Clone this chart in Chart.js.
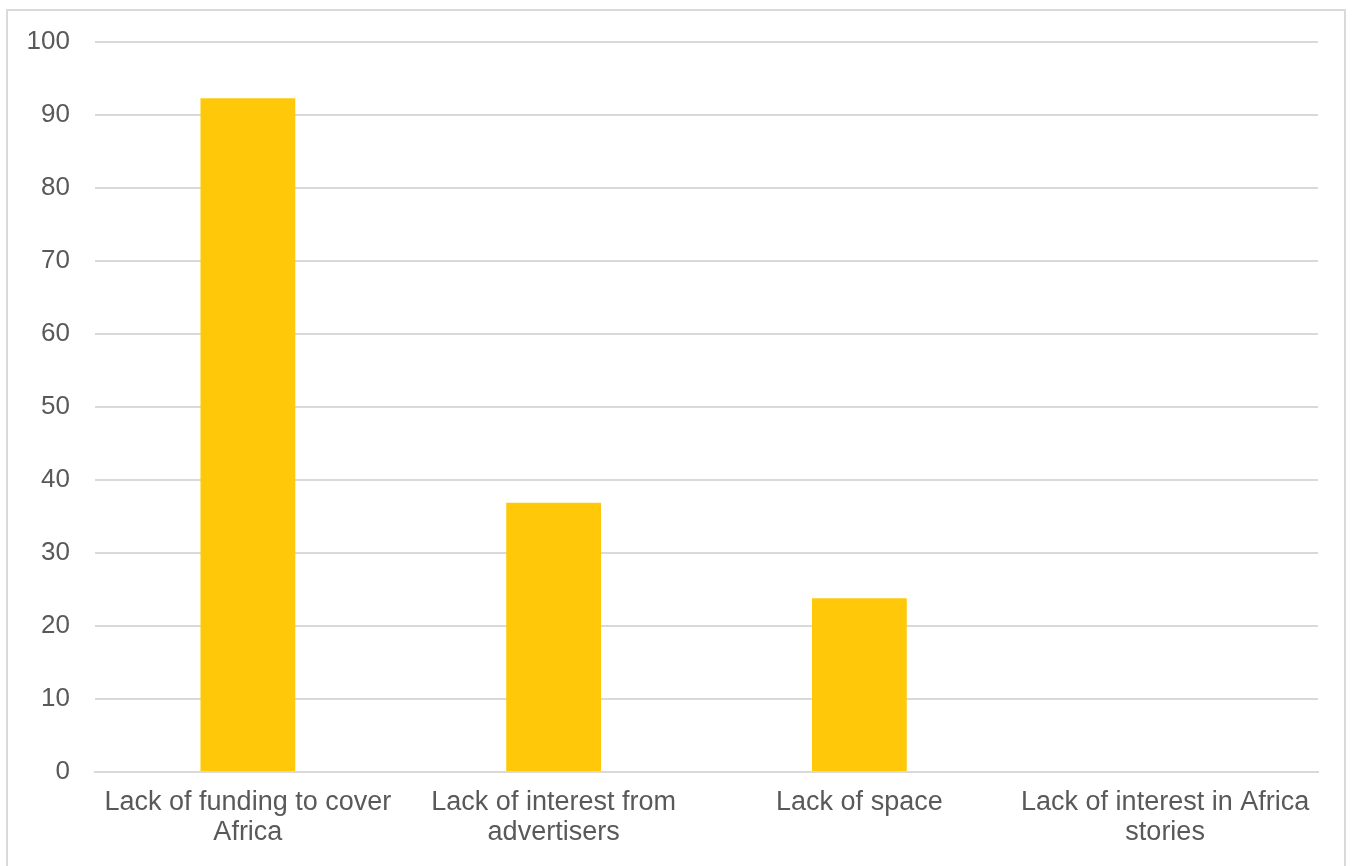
<!DOCTYPE html>
<html>
<head>
<meta charset="utf-8">
<title>Constraints on Africa coverage</title>
<script src="https://cdn.jsdelivr.net/npm/chart.js@4/dist/chart.umd.min.js"></script>
<style>
  html, body { margin: 0; padding: 0; background: #fff; overflow: hidden; }
  .frame {
    position: absolute; left: 6px; top: 9px; width: 1340px; height: 900px;
    border: 2px solid #dadada; box-sizing: border-box;
  }
  .wrap { position: absolute; left: 0; top: 0; width: 1354px; height: 866px; }
</style>
</head>
<body>
<div class="frame"></div>
<div class="wrap"><canvas id="chart" width="1354" height="866"></canvas></div>
<script>
const categories = [
  ['Lack of funding to cover', 'Africa'],
  ['Lack of interest from', 'advertisers'],
  ['Lack of space'],
  ['Lack of interest in Africa', 'stories']
];
const values = [92.3, 36.9, 23.8, 0];
const yTicks = { min: 0, max: 100, step: 10 };

const textColor = '#595959';
const gridColor = '#d9d9d9';
const barColor = '#ffc90a';
const font = { family: 'Liberation Sans, Arial, sans-serif', size: 27, lineHeight: 1.11 };

new Chart(document.getElementById('chart'), {
  type: 'bar',
  data: {
    labels: categories,
    datasets: [{
      data: values,
      backgroundColor: barColor,
      borderWidth: 0,
      categoryPercentage: 1,
      barPercentage: 0.31
    }]
  },
  options: {
    responsive: false,
    animation: false,
    layout: { padding: { top: 42, right: 36, left: 0, bottom: 0 } },
    plugins: { legend: { display: false }, tooltip: { enabled: false } },
    scales: {
      x: {
        grid: { display: false, drawTicks: false },
        border: { color: gridColor, width: 2 },
        ticks: { color: textColor, font, padding: 16, maxRotation: 0, autoSkip: false },
        afterFit: (scale) => { scale.height = 94; }
      },
      y: {
        min: yTicks.min,
        max: yTicks.max,
        grid: { color: gridColor, lineWidth: 2, drawTicks: false },
        border: { display: false },
        ticks: { stepSize: yTicks.step, color: textColor, font: { ...font, size: 26 }, padding: 25 },
        afterFit: (scale) => { scale.width = 95; }
      }
    }
  }
});
</script>
</body>
</html>
